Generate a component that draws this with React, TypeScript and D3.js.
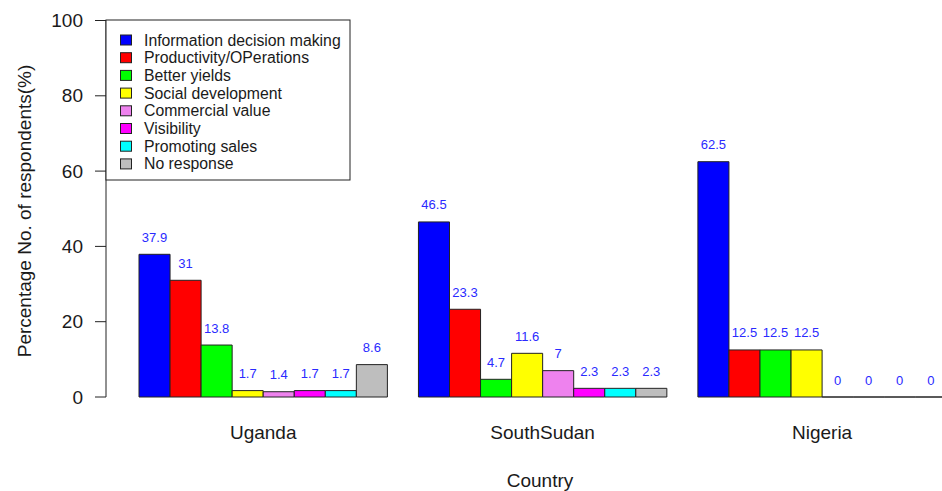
import React from "react";
import * as d3 from "d3";

const countries = ["Uganda", "SouthSudan", "Nigeria"];
const categories = [
  "Information decision making",
  "Productivity/OPerations",
  "Better yields",
  "Social development",
  "Commercial value",
  "Visibility",
  "Promoting sales",
  "No response",
];
const colors = ["#0000FF", "#FF0000", "#00FF00", "#FFFF00", "#EE82EE", "#FF00FF", "#00FFFF", "#BEBEBE"];
const uganda = [37.9, 31, 13.8, 1.7, 1.4, 1.7, 1.7, 8.6];
const southSudan = [46.5, 23.3, 4.7, 11.6, 7, 2.3, 2.3, 2.3];
const nigeria = [62.5, 12.5, 12.5, 12.5, 0, 0, 0, 0];
const seriesByCountry = [uganda, southSudan, nigeria];
const yTicks = [0, 20, 40, 60, 80, 100];

const W = 942;
const H = 491;
const FONT = "'Liberation Sans', Arial, sans-serif";

export default function App() {
  const y = d3.scaleLinear().domain([0, 100]).range([397, 20.5]);
  const x = d3.scaleLinear().domain([1, 27]).range([139, 139 + 26 * 31.05]);
  const n = categories.length;

  const bars: React.ReactNode[] = [];
  const labels: React.ReactNode[] = [];
  seriesByCountry.forEach((vals, g) => {
    vals.forEach((v, j) => {
      const u = 1 + g * (n + 1) + j;
      const x0 = x(u);
      const x1 = x(u + 1);
      const p = d3.path();
      p.moveTo(x0, y(0));
      p.lineTo(x1, y(0));
      p.lineTo(x1, y(v));
      p.lineTo(x0, y(v));
      p.closePath();
      bars.push(
        <path key={`b${g}-${j}`} d={p.toString()} fill={colors[j]} stroke="#222" strokeWidth={1} />
      );
      labels.push(
        <text
          key={`l${g}-${j}`}
          x={(x0 + x1) / 2}
          y={y(v) - 12.5}
          textAnchor="middle"
          fontSize={13}
          fill="#2a2aff"
          fontFamily={FONT}
        >
          {String(v)}
        </text>
      );
    });
  });

  const axisX = 106;

  return (
    <svg width={W} height={H} style={{ position: "absolute", left: 0, top: 0, background: "#fff" }}>
      <rect x={0} y={0} width={W} height={H} fill="#fff" />
      {/* y axis */}
      <line x1={axisX} x2={axisX} y1={y(100)} y2={y(0)} stroke="#222" strokeWidth={1} />
      {yTicks.map((t) => (
        <g key={t}>
          <line x1={axisX - 11} x2={axisX} y1={y(t)} y2={y(t)} stroke="#222" strokeWidth={1} />
          <text
            x={83}
            y={y(t)}
            dy="0.35em"
            textAnchor="end"
            fontSize={19}
            fill="#1a1a1a"
            fontFamily={FONT}
          >
            {t}
          </text>
        </g>
      ))}
      <text
        transform={`translate(31,${211}) rotate(-90)`}
        textAnchor="middle"
        fontSize={19}
        fill="#1a1a1a"
        fontFamily={FONT}
      >
        Percentage No. of respondents(%)
      </text>
      {bars}
      {labels}
      {countries.map((c, g) => {
        const u0 = 1 + g * (n + 1);
        const cx = (x(u0) + x(u0 + n)) / 2;
        return (
          <text key={c} x={cx} y={439} textAnchor="middle" fontSize={19} fill="#1a1a1a" fontFamily={FONT}>
            {c}
          </text>
        );
      })}
      <text x={540} y={487} textAnchor="middle" fontSize={19} fill="#1a1a1a" fontFamily={FONT}>
        Country
      </text>
      {/* legend */}
      <rect x={106} y={20} width={244} height={160} fill="#fff" stroke="#222" strokeWidth={1} />
      {categories.map((c, i) => {
        const cy = 40 + i * 17.7;
        return (
          <g key={c}>
            <rect x={120.5} y={cy - 5} width={11} height={10} fill={colors[i]} stroke="#222" strokeWidth={1} />
            <text x={144} y={cy} dy="0.35em" fontSize={15.8} fill="#1a1a1a" fontFamily={FONT}>
              {c}
            </text>
          </g>
        );
      })}
    </svg>
  );
}
